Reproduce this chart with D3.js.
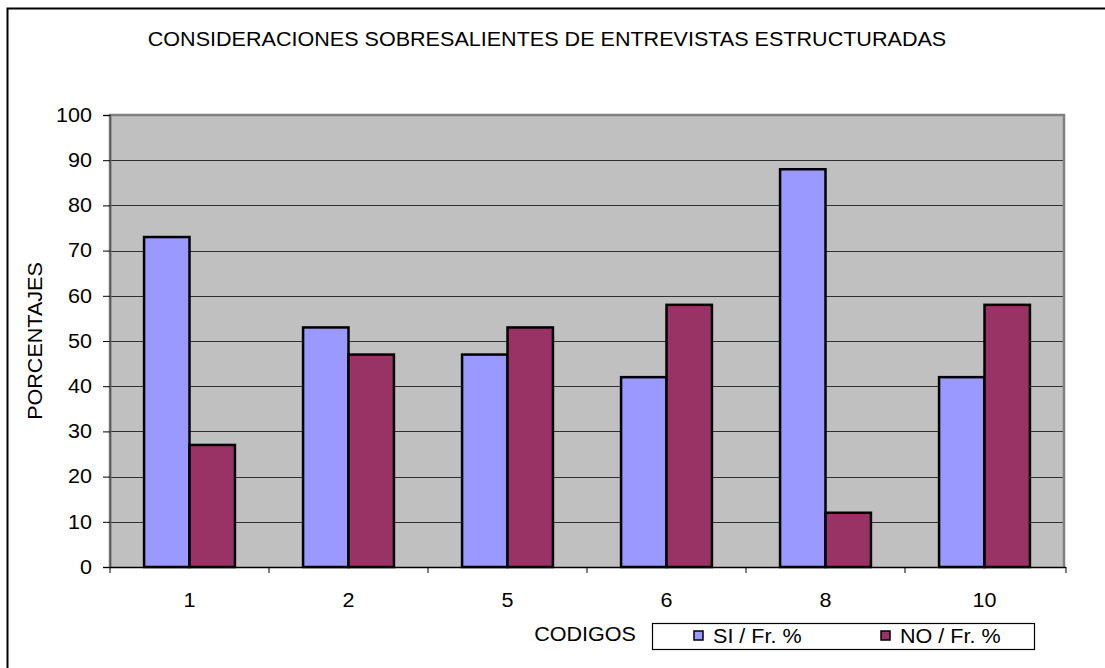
<!DOCTYPE html>
<html><head><meta charset="utf-8">
<script src="https://cdn.jsdelivr.net/npm/d3@7"></script>
<style>body{margin:0;background:#fff}svg{display:block}text{font-family:"Liberation Sans",Arial,sans-serif;fill:#000}</style>
</head><body><svg id="c" width="1105" height="668"></svg>
<script>
const categories = ["1","2","5","6","8","10"];
const siValues = [73,53,47,42,88,42];
const noValues = [27,47,53,58,12,58];
const yTicks = [0,10,20,30,40,50,60,70,80,90,100];
const seriesNames = ["SI / Fr. %","NO / Fr. %"];
const seriesColors = ["#9999ff","#993366"];

const FS = "19.6px", STRETCH = 1.1;
function stretch(sel){
  sel.style("font-size",FS).style("font-family","Liberation Sans, Arial, sans-serif").each(function(){
    const L = this.getComputedTextLength();
    d3.select(this).attr("textLength",L*STRETCH).attr("lengthAdjust","spacingAndGlyphs");
  });
}

const svg = d3.select("#c");
const m = {l:110, r:1064, t:115, b:567};

svg.append("rect").attr("x",7.5).attr("y",8.5).attr("width",1110).attr("height",680)
  .attr("fill","#fff").attr("stroke","#000").attr("stroke-width",2);

svg.append("text").attr("x",547).attr("y",46).attr("text-anchor","middle")
  .text("CONSIDERACIONES SOBRESALIENTES DE ENTREVISTAS ESTRUCTURADAS").call(stretch);

const x0 = d3.scaleBand().domain(categories).range([m.l,m.r]).paddingInner(0).paddingOuter(0);
const x1 = d3.scaleBand().domain([0,1]).range([0,x0.bandwidth()]).paddingInner(0).paddingOuter(0.75);
const y = d3.scaleLinear().domain([0,100]).range([m.b,m.t]);

svg.append("rect").attr("x",m.l).attr("y",m.t).attr("width",m.r-m.l).attr("height",m.b-m.t)
  .attr("fill","#c0c0c0");

svg.append("g").selectAll("line").data(yTicks.filter(d=>d>0)).join("line")
  .attr("x1",m.l).attr("x2",m.r).attr("y1",d=>Math.round(y(d))+0.5).attr("y2",d=>Math.round(y(d))+0.5)
  .attr("stroke","#303030").attr("stroke-width",1.2);

svg.append("path").attr("d",`M${m.l},${m.b}V${m.t}H${m.r}V${m.b}`).attr("fill","none")
  .attr("stroke","#808080").attr("stroke-width",2.5);

const data = categories.map((c,i)=>({c, v:[siValues[i],noValues[i]]}));
const g = svg.append("g");
data.forEach(d=>{
  d.v.forEach((v,j)=>{
    g.append("rect").attr("x",x0(d.c)+x1(j)).attr("y",y(v))
      .attr("width",x1.bandwidth()).attr("height",y(0)-y(v))
      .attr("fill",seriesColors[j]).attr("stroke","#000").attr("stroke-width",2.5);
  });
});

const ya = svg.append("g").attr("transform",`translate(${m.l},0)`)
  .call(d3.axisLeft(y).tickValues(yTicks).tickSize(7).tickPadding(11));
ya.select(".domain").attr("stroke","#555").attr("stroke-width",1.5);
ya.selectAll(".tick line").attr("stroke","#000");
ya.selectAll("text").call(stretch);

svg.append("line").attr("x1",m.l).attr("x2",m.r+2).attr("y1",m.b+0.5).attr("y2",m.b+0.5).attr("stroke","#000").attr("stroke-width",1.5);
const bounds = categories.map(c=>x0(c)).concat([m.r+2]);
svg.append("g").selectAll("line").data(bounds).join("line")
  .attr("x1",d=>d).attr("x2",d=>d).attr("y1",m.b).attr("y2",m.b+6).attr("stroke","#000");
svg.append("g").selectAll("text").data(categories).join("text")
  .attr("x",d=>x0(d)+x0.bandwidth()/2).attr("y",607).attr("text-anchor","middle")
  .text(d=>d).call(stretch);

svg.append("text").attr("transform","translate(42,341) rotate(-90)").attr("text-anchor","middle")
  .text("PORCENTAJES").call(stretch);

svg.append("text").attr("x",636).attr("y",641).attr("text-anchor","end")
  .text("CODIGOS").call(stretch);

svg.append("rect").attr("x",652.5).attr("y",623.5).attr("width",382).attr("height",26)
  .attr("fill","#fff").attr("stroke","#000").attr("stroke-width",1.2);
const lx = [694, 881];
seriesNames.forEach((n,i)=>{
  svg.append("rect").attr("x",lx[i]).attr("y",631).attr("width",9).attr("height",9)
    .attr("fill",seriesColors[i]).attr("stroke","#000").attr("stroke-width",1.5);
  svg.append("text").attr("x",lx[i]+19).attr("y",643).text(n).call(stretch);
});
</script></body></html>
